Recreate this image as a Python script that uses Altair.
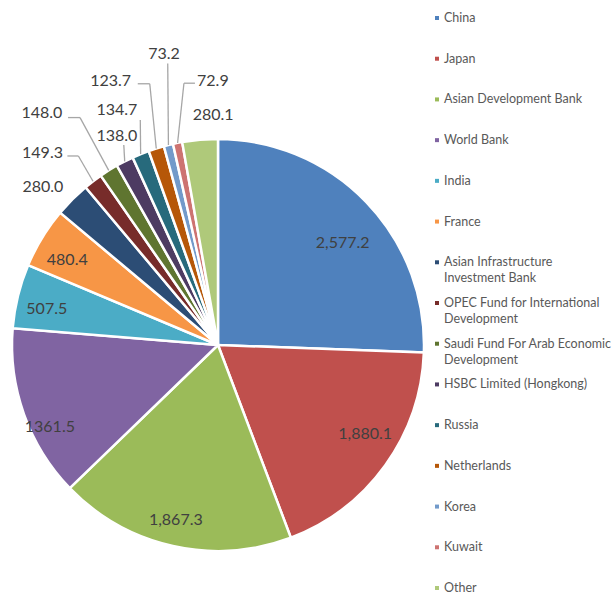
import altair as alt
import pandas as pd

# ---- data -------------------------------------------------------------
names = [
    "China", "Japan", "Asian Development Bank", "World Bank", "India", "France",
    "Asian Infrastructure Investment Bank", "OPEC Fund for International Development",
    "Saudi Fund For Arab Economic Development", "HSBC Limited (Hongkong)", "Russia",
    "Netherlands", "Korea", "Kuwait", "Other",
]
values = [2577.2, 1880.1, 1867.3, 1361.5, 507.5, 480.4, 280.0, 149.3,
          148.0, 138.0, 134.7, 123.7, 73.2, 72.9, 280.1]
value_labels = ["2,577.2", "1,880.1", "1,867.3", "1361.5", "507.5", "480.4", "280.0",
                "149.3", "148.0", "138.0", "134.7", "123.7", "73.2", "72.9", "280.1"]
legend_labels = [
    " China", "Japan", "Asian Development Bank", "World Bank", "India", "France",
    "Asian Infrastructure\nInvestment Bank", "OPEC Fund for International\nDevelopment",
    "Saudi Fund For Arab Economic\nDevelopment", "HSBC Limited (Hongkong)", "Russia",
    "Netherlands", "Korea", "Kuwait", "Other",
]
colors = ["#4F81BD", "#C0504D", "#9BBB59", "#8064A2", "#4BACC6", "#F79646",
          "#2C4D75", "#772C2A", "#5F7530", "#4D3B62", "#276A7C", "#B65708",
          "#729ACA", "#CD7371", "#AFC97A"]

# ---- layout of the pie and its data labels ----------------------------
CX, CY, R = 218, 345, 206
label_r = [161, 172, 180, 187, 175, 173, 236, 260, 291, 232, 256, 285, 296, 264, 230]
label_dang = [4.7, -4.5, 0.9, -6.3, -1.8, -2.0, -2.9, -5.1, -5.2, 1.1, -1.2, -4.7, 3.4, 10.2, 3.8]
elbow_r = [None] * 7 + [235, 266, 221, 238, 270, 286, 264, None]
elbow_dang = [0] * 7 + [0.9, 0.8, 1.7, 3.0, 2.8, 3.8, 3.9, 0]
tail = [0] * 7 + [-11, -12, 0, 0, -12, 0, 11, 0]

df = pd.DataFrame({
    "name": names,
    "value": values,
    "text": value_labels,
    "legend": legend_labels,
    "order": list(range(len(names))),
    "label_r": label_r,
    "label_dang": label_dang,
    "elbow_r": elbow_r,
    "elbow_dang": elbow_dang,
    "tail": tail,
})

FONT = "Lato"
color_scale = alt.Scale(domain=names, range=colors)

base = alt.Chart(df).transform_joinaggregate(
    total="sum(value)"
).transform_window(
    cum="sum(value)", sort=[alt.SortField("order")], frame=[None, 0]
).transform_calculate(
    mid="2*PI*(datum.cum - datum.value/2)/datum.total"
)

pie = alt.Chart(df).mark_arc(stroke="white", strokeWidth=2.5).encode(
    theta=alt.Theta("value:Q", stack=True),
    order=alt.Order("order:Q"),
    color=alt.Color("name:N", scale=color_scale, legend=None),
    radius=alt.value(R),
    x=alt.value(CX),
    y=alt.value(CY),
)

labels = base.transform_calculate(
    a="datum.mid + datum.label_dang*PI/180",
).transform_calculate(
    lx=f"{CX} + datum.label_r*sin(datum.a)",
    ly=f"{CY} - datum.label_r*cos(datum.a)",
).mark_text(font=FONT, fontSize=16, color="#404040", align="center", baseline="middle").encode(
    x=alt.X("lx:Q", scale=None),
    y=alt.Y("ly:Q", scale=None),
    text="text:N",
)

leader_base = base.transform_filter("isValid(datum.elbow_r)").transform_calculate(
    ea="datum.mid + datum.elbow_dang*PI/180",
).transform_calculate(
    sx=f"{CX} + {R}*sin(datum.mid)",
    sy=f"{CY} - {R}*cos(datum.mid)",
    ex=f"{CX} + datum.elbow_r*sin(datum.ea)",
    ey=f"{CY} - datum.elbow_r*cos(datum.ea)",
).transform_calculate(
    tx="datum.ex + datum.tail",
)

leader_diag = leader_base.mark_rule(color="#A6A6A6", strokeWidth=1.3).encode(
    x=alt.X("sx:Q", scale=None), y=alt.Y("sy:Q", scale=None),
    x2="ex:Q", y2="ey:Q",
)
leader_tail = leader_base.transform_filter("datum.tail != 0").mark_rule(
    color="#A6A6A6", strokeWidth=1.3
).encode(
    x=alt.X("ex:Q", scale=None), y=alt.Y("ey:Q", scale=None),
    x2="tx:Q", y2="ey:Q",
)

# ---- legend -----------------------------------------------------------
legend_y = alt.Y("name:N", sort=names, axis=None,
                 scale=alt.Scale(type="point", range=[18, 588], padding=0))

legend_marks = alt.Chart(df).mark_square(size=16, opacity=1).encode(
    x=alt.value(437),
    y=legend_y,
    color=alt.Color("name:N", scale=color_scale, legend=None),
)
legend_text = alt.Chart(df).mark_text(
    font=FONT, fontSize=12.5, color="#595959", align="left", baseline="top",
    dy=-6, lineBreak="\n", lineHeight=16,
).encode(
    x=alt.value(444),
    y=legend_y,
    text="legend:N",
)

chart = alt.layer(
    pie, leader_diag, leader_tail, labels, legend_marks, legend_text
).resolve_scale(
    y="independent", x="independent"
).properties(
    width=612, height=597, padding=0, autosize=alt.AutoSizeParams(type="none"),
).configure_view(stroke=None)

chart.save("out.html", embed_options={"renderer": "svg", "actions": False})
